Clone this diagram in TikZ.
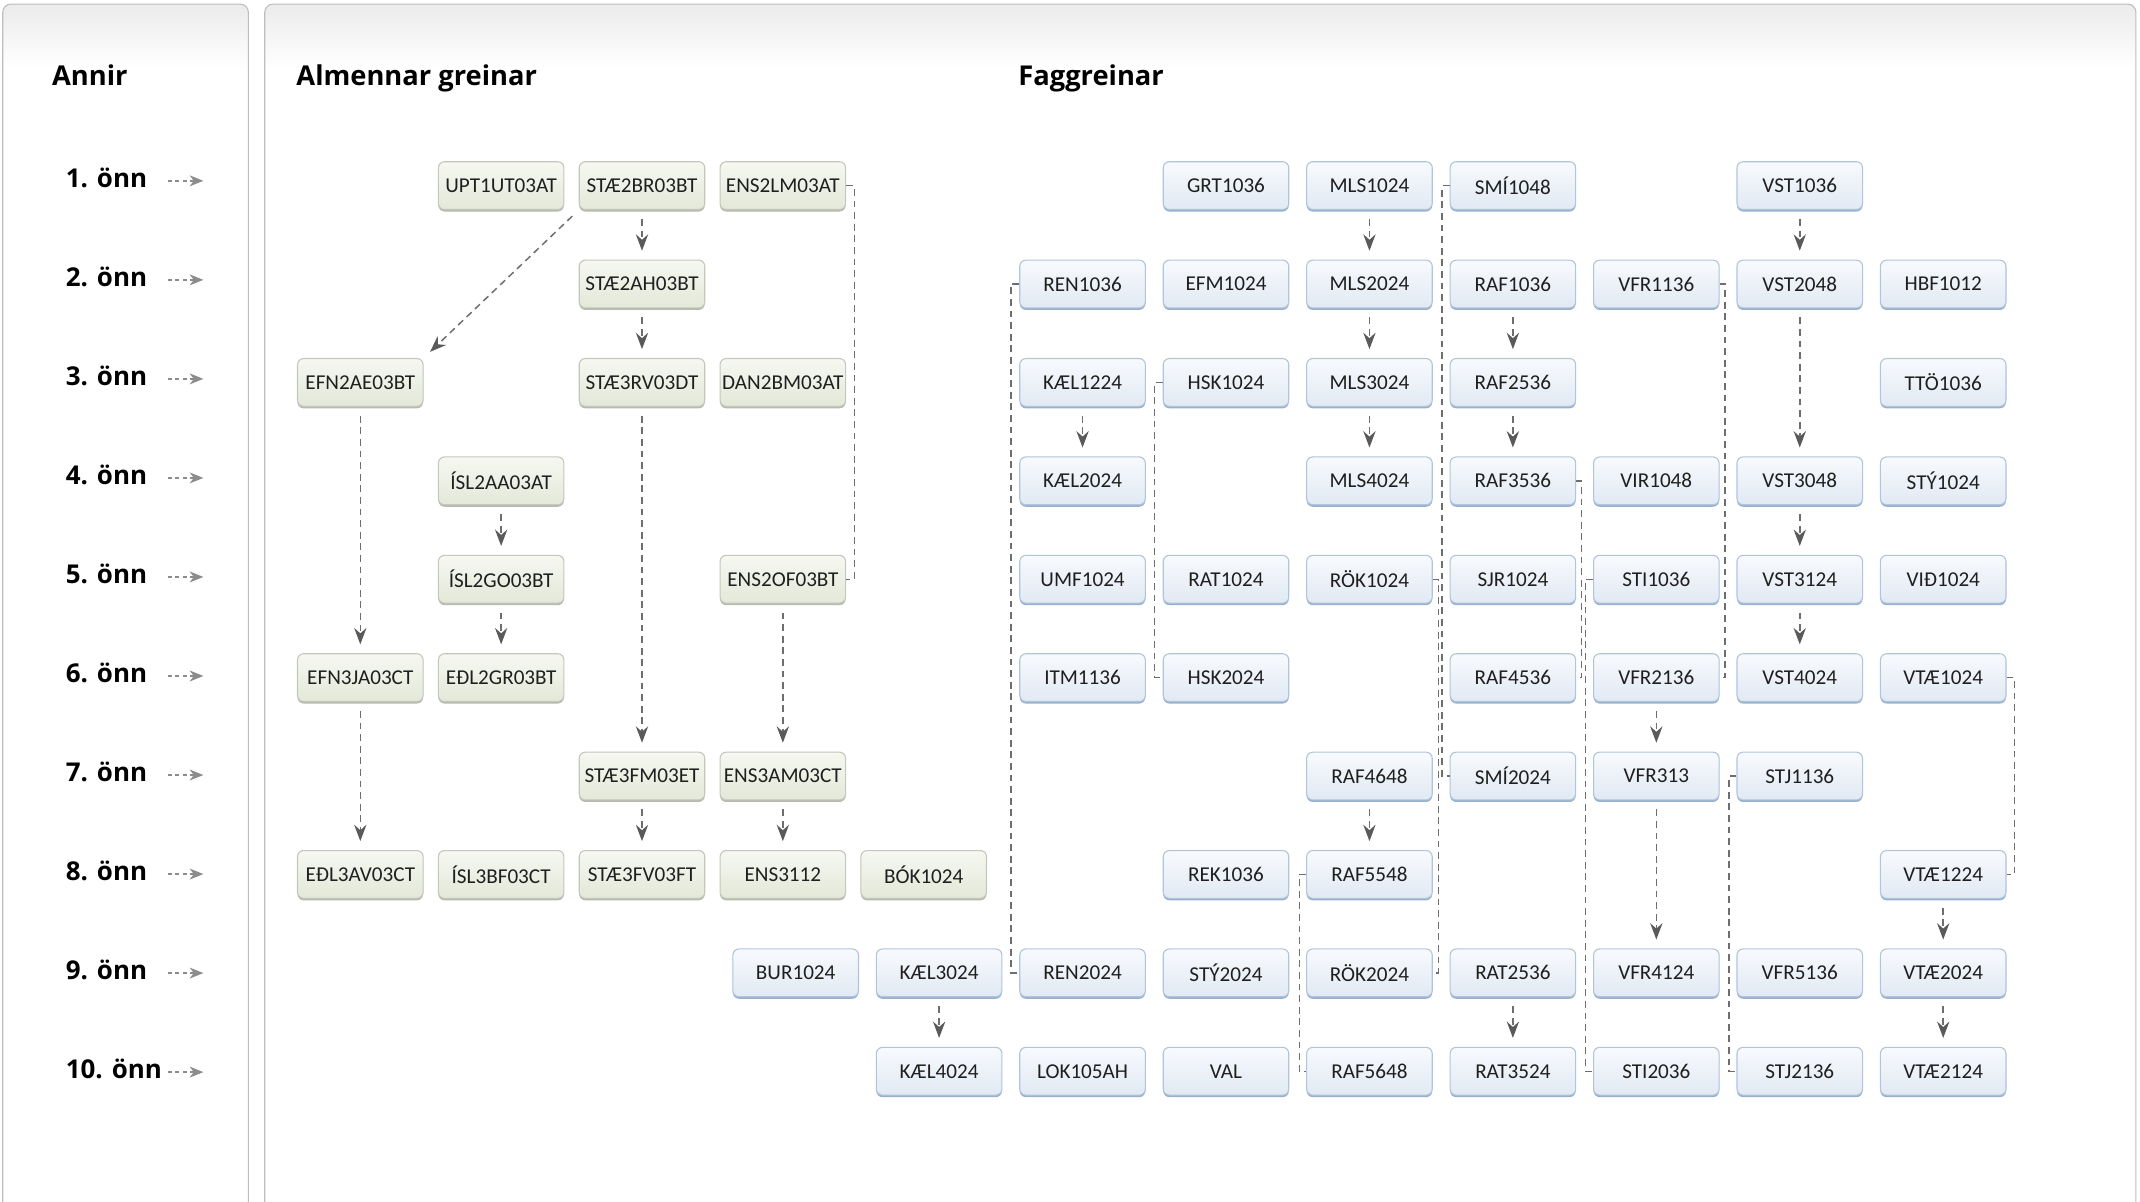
\documentclass[tikz,border=0pt]{standalone}
\usepackage{fontspec}
\setmainfont{Carlito}
\newfontfamily\headfont{Open Sans}
\usetikzlibrary{arrows.meta,shadows}

\definecolor{gtop}{HTML}{F6F8F1}
\definecolor{gbot}{HTML}{E3E8D8}
\definecolor{gline}{HTML}{C4C7BC}
\definecolor{gshade}{HTML}{B6B9AF}
\definecolor{btop}{HTML}{F8FAFD}
\definecolor{bbot}{HTML}{E1E9F3}
\definecolor{bline}{HTML}{B0C5DB}
\definecolor{bshade}{HTML}{97B0CB}
\definecolor{linkgray}{HTML}{6E6E6E}
\definecolor{tipgray}{HTML}{5A5A5A}
\definecolor{panelline}{HTML}{BEBEBE}
\definecolor{panelgray}{HTML}{EBEBEB}

\tikzset{
	course/.style={rectangle, rounded corners=4.5pt, minimum width=92pt, minimum height=35pt,
		inner sep=0pt, line width=0.8pt, font=\fontsize{15.5}{18}\selectfont, text=black!88},
	almcourse/.style={course, draw=gline, top color=gtop, bottom color=gbot,
		drop shadow={shadow xshift=0pt, shadow yshift=-1.5pt, fill=gshade, opacity=1}},
	fagcourse/.style={course, draw=bline, top color=btop, bottom color=bbot,
		drop shadow={shadow xshift=0pt, shadow yshift=-1.5pt, fill=bshade, opacity=1}},
	prereq/.style={draw=linkgray, line width=1.1pt, dash pattern=on 5pt off 3.5pt,
		-{Stealth[length=12pt, width=9pt, inset=4pt, color=tipgray]},
		shorten <=6.5pt, shorten >=6.5pt},
	bracket/.style={draw=linkgray, line width=1pt, dash pattern=on 5pt off 3.5pt},
	heading/.style={anchor=base west, inner sep=0pt, font=\headfont\bfseries\fontsize{20}{24}\selectfont},
	sem/.style={anchor=west, inner sep=0pt, font=\headfont\bfseries\fontsize{19}{22}\selectfont},
	semarrow/.style={draw=gray!90, line width=1pt, dash pattern=on 3pt off 2.5pt,
		-{Stealth[length=10pt, width=8pt, inset=3pt]}},
	panel/.style={draw=panelline, line width=0.8pt, rounded corners=6pt}
}

\begin{document}
\begin{tikzpicture}[x=1pt, y=-1pt]
	% page setup
	\def\W{1568}
	\def\H{880}
	\useasboundingbox (0,0) rectangle (\W,\H);
	\clip (0,0) rectangle (\W,\H);

	% panels
	\foreach \xa/\xb in {2/182, 194/1565}{
		\begin{scope}
			\clip[rounded corners=6pt] (\xa,3) rectangle (\xb,920);
			\shade[top color=panelgray, bottom color=white] (\xa,3) rectangle (\xb,50);
		\end{scope}
		\draw[panel] (\xa,3) rectangle (\xb,920);
	}

	% headings
	\node[heading] (annir) at (38,63) {Annir};
	\node[heading] (almennar) at (217,63) {Almennar greinar};
	\node[heading] (fag) at (746,63) {Faggreinar};

	% semesters
	\foreach \n in {1,...,10}{
		\node[sem] (sem\n) at (48,{130+(\n-1)*72.56}) {\n. önn};
		\coordinate (semarr\n) at (123,{132.5+(\n-1)*72.56});
		\draw[semarrow] (semarr\n) -- ++(26,0);
	}

	% almennar greinar
	\foreach \id/\c/\r/\txt in {upt/1/1/UPT1UT03AT, staeBR/2/1/STÆ2BR03BT, ensLM/3/1/ENS2LM03AT,
		staeAH/2/2/STÆ2AH03BT,
		efnAE/0/3/EFN2AE03BT, staeRV/2/3/STÆ3RV03DT, danBM/3/3/DAN2BM03AT,
		islAA/1/4/ÍSL2AA03AT,
		islGO/1/5/ÍSL2GO03BT, ensOF/3/5/ENS2OF03BT,
		efnJA/0/6/EFN3JA03CT, edlGR/1/6/EÐL2GR03BT,
		staeFM/2/7/STÆ3FM03ET, ensAM/3/7/ENS3AM03CT,
		edlAV/0/8/EÐL3AV03CT, islBF/1/8/ÍSL3BF03CT, staeFV/2/8/STÆ3FV03FT, ens3112/3/8/ENS3112, bok/4/8/BÓK1024}{
		\node[almcourse] (\id) at ({264+\c*103.2},{136+(\r-1)*72.1}) {\txt};
	}

	% faggreinar
	\foreach \id/\c/\r/\txt in {grt1036/3/1/GRT1036, mls1024/4/1/MLS1024, smi1048/5/1/SMÍ1048, vst1036/7/1/VST1036,
		ren1036/2/2/REN1036, efm1024/3/2/EFM1024, mls2024/4/2/MLS2024, raf1036/5/2/RAF1036,
		vfr1136/6/2/VFR1136, vst2048/7/2/VST2048, hbf1012/8/2/HBF1012,
		kael1224/2/3/KÆL1224, hsk1024/3/3/HSK1024, mls3024/4/3/MLS3024, raf2536/5/3/RAF2536, tto1036/8/3/TTÖ1036,
		kael2024/2/4/KÆL2024, mls4024/4/4/MLS4024, raf3536/5/4/RAF3536, vir1048/6/4/VIR1048,
		vst3048/7/4/VST3048, sty1024/8/4/STÝ1024,
		umf1024/2/5/UMF1024, rat1024/3/5/RAT1024, rok1024/4/5/RÖK1024, sjr1024/5/5/SJR1024,
		sti1036/6/5/STI1036, vst3124/7/5/VST3124, vid1024/8/5/VIÐ1024,
		itm1136/2/6/ITM1136, hsk2024/3/6/HSK2024, raf4536/5/6/RAF4536, vfr2136/6/6/VFR2136,
		vst4024/7/6/VST4024, vtae1024/8/6/VTÆ1024,
		raf4648/4/7/RAF4648, smi2024/5/7/SMÍ2024, vfr313/6/7/VFR313, stj1136/7/7/STJ1136,
		rek1036/3/8/REK1036, raf5548/4/8/RAF5548, vtae1224/8/8/VTÆ1224,
		bur1024/0/9/BUR1024, kael3024/1/9/KÆL3024, ren2024/2/9/REN2024, sty2024/3/9/STÝ2024,
		rok2024/4/9/RÖK2024, rat2536/5/9/RAT2536, vfr4124/6/9/VFR4124, vfr5136/7/9/VFR5136, vtae2024/8/9/VTÆ2024,
		kael4024/1/10/KÆL4024, lok105ah/2/10/LOK105AH, val/3/10/VAL, raf5648/4/10/RAF5648,
		rat3524/5/10/RAT3524, sti2036/6/10/STI2036, stj2136/7/10/STJ2136, vtae2124/8/10/VTÆ2124}{
		\node[fagcourse] (\id) at ({583+\c*105.1},{136+(\r-1)*72.1}) {\txt};
	}

	% prerequisites
	\draw[prereq] (staeBR.south west) -- (efnAE.north east);
	\foreach \src/\dst in {staeBR/staeAH, staeAH/staeRV, staeRV/staeFM, staeFM/staeFV,
		efnAE/efnJA, efnJA/edlAV, islAA/islGO, islGO/edlGR, ensOF/ensAM, ensAM/ens3112,
		mls1024/mls2024, mls2024/mls3024, mls3024/mls4024, raf1036/raf2536, raf2536/raf3536,
		vst1036/vst2048, vst2048/vst3048, vst3048/vst3124, vst3124/vst4024,
		kael1224/kael2024, vfr2136/vfr313, vfr313/vfr4124, raf4648/raf5548,
		kael3024/kael4024, rat2536/rat3524, vtae1224/vtae2024, vtae2024/vtae2124}{
		\draw[prereq] (\src) -- (\dst);
	}

	% brackets, right side
	\draw[bracket] (ensLM.east) -- ++(6,0) |- (ensOF.east);
	\draw[bracket] (rok1024.east) -- ++(4,0) |- (rok2024.east);
	\draw[bracket] (raf3536.east) -- ++(4,0) |- (raf4536.east);
	\draw[bracket] (vfr1136.east) -- ++(4,0) |- (vfr2136.east);
	\draw[bracket] (vtae1024.east) -- ++(6,0) |- (vtae1224.east);

	% brackets, left side
	\draw[bracket] (ren1036.west) -- ++(-6,0) |- (ren2024.west);
	\draw[bracket] (hsk1024.west) -- ++(-6,0) |- (hsk2024.west);
	\draw[bracket] (smi1048.west) -- ++(-5.5,0) |- (smi2024.west);
	\draw[bracket] (sti1036.west) -- ++(-5.5,0) |- (sti2036.west);
	\draw[bracket] (stj1136.west) -- ++(-5.5,0) |- (stj2136.west);
	\draw[bracket] (raf5548.west) -- ++(-5,0) |- (raf5648.west);
\end{tikzpicture}
\end{document}
